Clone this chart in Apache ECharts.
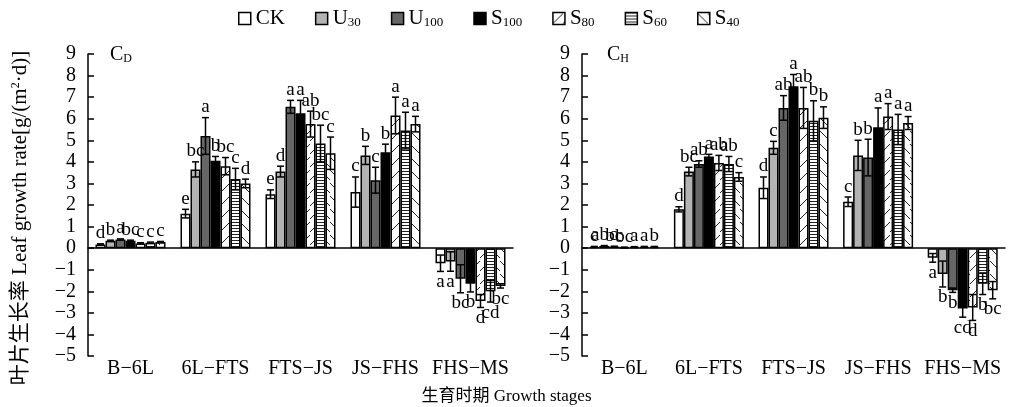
<!DOCTYPE html>
<html><head><meta charset="utf-8">
<script src="https://cdn.jsdelivr.net/npm/echarts@6/dist/echarts.min.js"></script>
<style>html,body{margin:0;padding:0;background:#fff}#c{width:1013px;height:407px}</style>
</head><body><div id="c"></div>
<script>
const categories = ['B−6L','6L−FTS','FTS−JS','JS−FHS','FHS−MS'];
const seriesNames = ['CK','U30','U100','S100','S80','S60','S40'];
const panelTitles = [['C','D'],['C','H']];
const yAxisNameParts = ['叶片生长率 Leaf growth rate[g/(m', '2', '·d)]'];
const xAxisName = '生育时期 Growth stages';

// Panel C_D
const CD_CK   = [0.17, 1.6, 2.5, 2.6, -0.7];
const CD_U30  = [0.34, 3.65, 3.55, 4.3, -0.62];
const CD_U100 = [0.40, 5.2, 6.55, 3.15, -1.42];
const CD_S100 = [0.34, 4.05, 6.25, 4.45, -1.65];
const CD_S80  = [0.22, 3.8, 5.75, 6.15, -2.45];
const CD_S60  = [0.25, 3.2, 4.85, 5.45, -2.0];
const CD_S40  = [0.28, 3.0, 4.4, 5.75, -1.75];
const CD_CK_err   = [0.03, 0.2, 0.2, 0.7, 0.38];
const CD_U30_err  = [0.03, 0.35, 0.25, 0.42, 0.45];
const CD_U100_err = [0.03, 0.85, 0.3, 0.6, 0.65];
const CD_S100_err = [0.03, 0.2, 0.6, 0.37, 0.38];
const CD_S80_err  = [0.03, 0.4, 0.6, 0.85, 0.3];
const CD_S60_err  = [0.03, 0.5, 0.85, 0.85, 0.5];
const CD_S40_err  = [0.03, 0.2, 0.75, 0.36, 0.1];
const CD_CK_sig   = ['d','e','e','c','a'];
const CD_U30_sig  = ['b','bc','d','b','a'];
const CD_U100_sig = ['a','a','a','c','bc'];
const CD_S100_sig = ['bc','b','a','b','b'];
const CD_S80_sig  = ['c','bc','ab','a','d'];
const CD_S60_sig  = ['c','c','bc','a','cd'];
const CD_S40_sig  = ['c','d','c','a','bc'];

// Panel C_H
const CH_CK   = [0.06, 1.8, 2.8, 2.15, -0.45];
const CH_U30  = [0.10, 3.55, 4.65, 4.3, -1.2];
const CH_U100 = [0.07, 3.9, 6.5, 4.2, -1.95];
const CH_S100 = [0.03, 4.25, 7.5, 5.6, -2.8];
const CH_S80  = [0.05, 3.95, 6.5, 6.1, -2.75];
const CH_S60  = [0.06, 3.9, 5.9, 5.5, -1.65];
const CH_S40  = [0.06, 3.3, 6.05, 5.8, -1.95];
const CH_CK_err   = [0.02, 0.12, 0.5, 0.22, 0.2];
const CH_U30_err  = [0.02, 0.2, 0.3, 0.7, 0.6];
const CH_U100_err = [0.02, 0.15, 0.57, 0.85, 0.1];
const CH_S100_err = [0.02, 0.1, 0.55, 0.9, 0.4];
const CH_S80_err  = [0.02, 0.35, 0.95, 0.6, 0.6];
const CH_S60_err  = [0.02, 0.35, 0.93, 0.7, 0.5];
const CH_S40_err  = [0.02, 0.2, 0.5, 0.3, 0.4];
const CH_CK_sig   = ['c','d','d','c','a'];
const CH_U30_sig  = ['abc','bc','c','b','b'];
const CH_U100_sig = ['bc','ab','ab','b','b'];
const CH_S100_sig = ['bc','a','a','a','cd'];
const CH_S80_sig  = ['a','ab','ab','a','d'];
const CH_S60_sig  = ['a','ab','b','a','b'];
const CH_S40_sig  = ['b','c','b','a','bc'];

const panels = [
  {vals:[CD_CK,CD_U30,CD_U100,CD_S100,CD_S80,CD_S60,CD_S40],
   errs:[CD_CK_err,CD_U30_err,CD_U100_err,CD_S100_err,CD_S80_err,CD_S60_err,CD_S40_err],
   sigs:[CD_CK_sig,CD_U30_sig,CD_U100_sig,CD_S100_sig,CD_S80_sig,CD_S60_sig,CD_S40_sig]},
  {vals:[CH_CK,CH_U30,CH_U100,CH_S100,CH_S80,CH_S60,CH_S40],
   errs:[CH_CK_err,CH_U30_err,CH_U100_err,CH_S100_err,CH_S80_err,CH_S60_err,CH_S40_err],
   sigs:[CH_CK_sig,CH_U30_sig,CH_U100_sig,CH_S100_sig,CH_S80_sig,CH_S60_sig,CH_S40_sig]}
];

const SERIF = '"Liberation Serif","Times New Roman",serif';
const CJK = '"Liberation Serif","Noto Sans CJK SC",serif';
const BAR_W = 10;

function pattern(kind){
  const c = document.createElement('canvas');
  let w, h;
  if (kind === 'h') { w = 4; h = 3; } else { w = 10; h = 13; }
  c.width = w; c.height = h;
  const g = c.getContext('2d');
  g.fillStyle = '#fff'; g.fillRect(0,0,w,h);
  g.strokeStyle = '#222'; g.lineWidth = 1;
  g.beginPath();
  if (kind === 'h') { g.moveTo(0,0.5); g.lineTo(w,0.5); }
  else if (kind === 'f') { g.moveTo(0,11); g.lineTo(10,1); }
  else { g.moveTo(0,1); g.lineTo(10,11); }
  g.stroke();
  return {image: c, repeat: 'repeat'};
}
const fills = ['#ffffff','#b3b3b3','#666666','#000000',pattern('f'),pattern('h'),pattern('b')];

const grids = [
  {left: 88, right: 500, top: 54, bottom: 51},
  {left: 582, right: 8, top: 54, bottom: 51}
];

const xAxes = [], yAxes = [], series = [];
grids.forEach((g, gi) => {
  xAxes.push({type:'category', data: categories, gridIndex: gi,
    axisLine:{onZero:true, lineStyle:{color:'#000', width:1.5}},
    axisTick:{show:false}, axisLabel:{show:false}, splitLine:{show:false}});
  xAxes.push({type:'category', data: categories, gridIndex: gi, position:'bottom',
    axisLine:{show:false, onZero:false}, axisTick:{show:false},
    axisLabel:{color:'#000', fontSize:20, fontFamily:SERIF, margin:3, interval:0},
    splitLine:{show:false}});
  const ya = {type:'value', gridIndex: gi, min:-5, max:9, interval:1,
    axisLine:{show:true, lineStyle:{color:'#000', width:1.5}},
    axisTick:{show:true, inside:true, length:6, lineStyle:{color:'#000', width:1.5}},
    axisLabel:{color:'#000', fontSize:20, fontFamily:SERIF, margin:12,
      formatter: v => String(v).replace('-', '−')},
    splitLine:{show:false}};
  if (gi === 0) {
    ya.name = '{t|' + yAxisNameParts[0] + '}{sup|' + yAxisNameParts[1] + '}{t|' + yAxisNameParts[2] + '}';
    ya.nameLocation = 'middle';
    ya.nameGap = 57;
    ya.nameTextStyle = {padding:[0, 26, 0, 0], rich:{
      t:{fontSize:21, fontFamily:CJK, color:'#000'},
      sup:{fontSize:12, fontFamily:SERIF, color:'#000', padding:[0,0,9,0]}}};
  }
  yAxes.push(ya);

  const P = panels[gi];
  seriesNames.forEach((nm, k) => {
    series.push({name: nm, type:'bar', xAxisIndex: gi*2, yAxisIndex: gi,
      data: P.vals[k], barWidth: BAR_W, barGap:'0%',
      itemStyle:{color: fills[k], borderColor:'#000', borderWidth:1.5},
      emphasis:{disabled:true}, animation:false});
  });
  const recs = [];
  seriesNames.forEach((nm, k) => {
    categories.forEach((c, ci) => {
      recs.push({value:[ci, P.vals[k][ci], P.errs[k][ci], k], sig: P.sigs[k][ci]});
    });
  });
  series.push({name:'err'+gi, type:'custom', xAxisIndex: gi*2, yAxisIndex: gi,
    data: recs.map(r => r.value), z: 10, clip:false, silent:true, animation:false,
    encode:{x:0, y:1},
    renderItem: function(params, api){
      const ci = api.value(0), v = api.value(1), e = api.value(2), k = api.value(3);
      const sig = recs[params.dataIndex].sig;
      const base = api.coord([ci, v]);
      const x = base[0] + (k - 3) * BAR_W;
      const yt = api.coord([ci, v + e])[1];
      const yb = api.coord([ci, v - e])[1];
      const ls = {stroke:'#000', lineWidth:1.5};
      const cw = 3.5;
      const ch = [
        {type:'line', shape:{x1:x, y1:yt, x2:x, y2:yb}, style:ls},
        {type:'line', shape:{x1:x-cw, y1:yt, x2:x+cw, y2:yt}, style:ls},
        {type:'line', shape:{x1:x-cw, y1:yb, x2:x+cw, y2:yb}, style:ls}
      ];
      const pos = v >= 0;
      ch.push({type:'text', style:{text: sig, x: x, y: pos ? yt - 1 : yb + 1,
        fill:'#000', font:'19px ' + SERIF, align:'center',
        verticalAlign: pos ? 'bottom' : 'top'}});
      return {type:'group', children: ch};
    }});
});

const titles = panelTitles.map((t, i) => ({
  text: '{c|' + t[0] + '}{s|' + t[1] + '}',
  left: i === 0 ? 105 : 602, top: 40,
  textStyle:{fontWeight:'normal', rich:{c:{fontSize:20, fontWeight:'normal', fontFamily:SERIF, color:'#000'},
    s:{fontSize:12, fontWeight:'normal', fontFamily:SERIF, color:'#000', padding:[8,0,0,0]}}}
}));
titles.push({text: xAxisName, left: 'center', top: 383,
  textStyle:{fontSize:17, fontWeight:'normal', color:'#000', fontFamily: CJK}});

const chart = echarts.init(document.getElementById('c'), null, {renderer:'canvas'});
chart.setOption({
  animation:false,
  title: titles,
  legend:{data: seriesNames, top: 3, left: 233, itemWidth:12, itemHeight:12, itemGap:30,
    icon:'rect',
    itemStyle:{borderColor:'#000', borderWidth:1.5},
    formatter: n => n.replace(/^([A-Z]+)(\d+)$/, '{n|$1}{s|$2}').replace(/^CK$/, '{n|CK}'),
    textStyle:{rich:{n:{fontSize:21, fontFamily:SERIF, color:'#000'},
      s:{fontSize:13, fontFamily:SERIF, color:'#000', padding:[9,0,0,0]}}}},
  grid: grids,
  xAxis: xAxes,
  yAxis: yAxes,
  series: series
});
</script>
</body></html>
